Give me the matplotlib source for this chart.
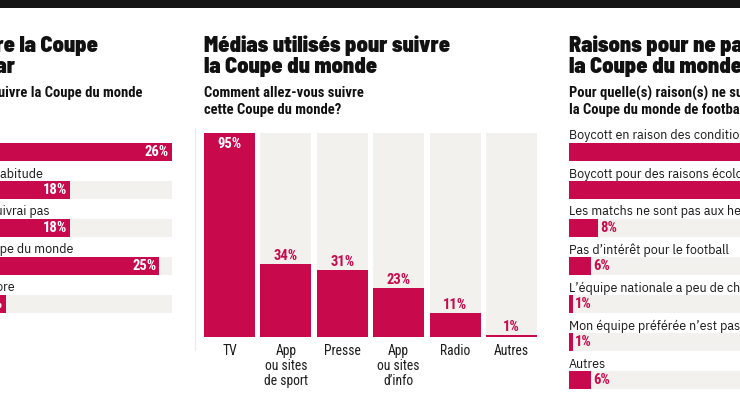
import matplotlib
matplotlib.use("Agg")
import matplotlib.pyplot as plt
from matplotlib.patches import Rectangle
from matplotlib.lines import Line2D

# ---------------- data ----------------
left_title = ["Intérêt pour suivre la Coupe", "du monde au Qatar"]
left_subtitle = "Avez-vous l'intention de suivre la Coupe du monde"
left_labels = ["Je la suivrai avec passion", "Je la suivrai par habitude",
               "Je ne la suivrai pas", "Je suivrai seulement la fin de la Coupe du monde",
               "Je ne sais pas encore"]
left_values = [26, 18, 18, 25, 13]

mid_title = ["Médias utilisés pour suivre", "la Coupe du monde"]
mid_subtitle = ["Comment allez-vous suivre", "cette Coupe du monde?"]
mid_labels = ["TV", "App\nou sites\nde sport", "Presse", "App\nou sites\nd’info", "Radio", "Autres"]
mid_values = [95, 34, 31, 23, 11, 1]

right_title = ["Raisons pour ne pas suivre", "la Coupe du monde"]
right_subtitle = ["Pour quelle(s) raison(s) ne suivrez-vous pas", "la Coupe du monde de football?"]
right_labels = ["Boycott en raison des conditions de travail des ouvriers",
                "Boycott pour des raisons écologiques",
                "Les matchs ne sont pas aux heures qui me conviennent",
                "Pas d’intérêt pour le football",
                "L’équipe nationale a peu de chances de gagner",
                "Mon équipe préférée n’est pas qualifiée",
                "Autres"]
right_values = [91, 58, 8, 6, 1, 1, 6]

# ---------------- style ----------------
W, H = 740, 416
RED = "#C8094C"
TRACK = "#F2F1EE"
INK = "#1b1b1b"
FT = "Roboto Condensed"
FTITLE = "Barlow Semi Condensed"
FBODY = "IBM Plex Sans"
TSIZE = 16
BSIZE = 9.0

fig = plt.figure(figsize=(W / 100, H / 100), dpi=100)
fig.patch.set_facecolor("white")


def fx(px):
    return px / W


def fy(py):
    return 1 - py / H


def rect(x0, x1, y0, y1):
    return [fx(x0), fy(y1), fx(x1) - fx(x0), (y1 - y0) / H]


# top black band
fig.add_artist(Rectangle((0, fy(8)), 1, 8 / H, transform=fig.transFigure,
                         facecolor="#151515", edgecolor="none"))
# faint separator
fig.add_artist(Line2D([fx(195), fx(195)], [fy(128), fy(350)], transform=fig.transFigure,
                      color="#e6ecf3", lw=0.8))


def title_block(x, title, subtitle, ha="left"):
    for k, line in enumerate(title):
        fig.text(fx(x), fy(46 + 21 * k), line, ha=ha, va="center", family=FTITLE,
                 weight="black", fontsize=TSIZE, color="#111111")
    for k, line in enumerate(subtitle):
        fig.text(fx(x), fy(93 + 17 * k), line, ha=ha, va="center", family=FT,
                 weight="bold", fontsize=10.5, color="#111111")


# ---------------- left panel (cropped) ----------------
fig.text(fx(98), fy(46), left_title[0], ha="right", va="center", family=FTITLE,
         weight="black", fontsize=TSIZE, color="#111111")
fig.text(fx(15), fy(67), left_title[1], ha="right", va="center", family=FTITLE,
         weight="black", fontsize=TSIZE, color="#111111")
fig.text(fx(142), fy(93), left_subtitle, ha="right", va="center", family=FT,
         weight="bold", fontsize=10.5, color="#111111")

axL = fig.add_axes(rect(-160, 172, 133, 323))
nL = len(left_values)
axL.barh(range(nL), [max(left_values)] * nL, height=0.45, color=TRACK)
axL.barh(range(nL), left_values, height=0.45, color=RED)
axL.set_xlim(0, max(left_values))
axL.set_ylim(nL - 0.5, -0.5)
axL.axis("off")
left_label_ends = [-30, 43, 50, 73, 15]
for i, (lab, v) in enumerate(zip(left_labels, left_values)):
    fig.text(fx(left_label_ends[i]), fy(136 + 38 * i), lab, ha="right", va="center",
             family=FBODY, fontsize=BSIZE, color=INK)
    axL.annotate(f"{v}%", (v, i), xytext=(-3, 0), textcoords="offset pixels",
                 ha="right", va="center", family=FT, weight="bold", fontsize=10.5,
                 color="white")

# ---------------- middle panel ----------------
title_block(204, mid_title, mid_subtitle)
axM = fig.add_axes(rect(204, 537, 133, 337))
nM = len(mid_values)
axM.bar(range(nM), [max(mid_values)] * nM, width=0.904, color=TRACK)
axM.bar(range(nM), mid_values, width=0.904, color=RED)
axM.set_xlim(-0.452, nM - 1 + 0.452)
axM.set_ylim(0, max(mid_values))
axM.axis("off")
for i, (lab, v) in enumerate(zip(mid_labels, mid_values)):
    if v >= 0.8 * max(mid_values):
        axM.annotate(f"{v}%", (i, v), xytext=(0, -4), textcoords="offset pixels",
                     ha="center", va="top", family=FT, weight="bold", fontsize=10.5,
                     color="white")
    else:
        axM.annotate(f"{v}%", (i, v), xytext=(0, 1), textcoords="offset pixels",
                     ha="center", va="bottom", family=FT, weight="bold", fontsize=10.5,
                     color=RED)
    axM.annotate(lab, (i, 0), xytext=(0, -7), textcoords="offset pixels",
                 ha="center", va="top", family=FT, fontsize=9.8, color=INK,
                 linespacing=1.1)

# ---------------- right panel (cropped) ----------------
title_block(569, right_title, right_subtitle)
axR = fig.add_axes(rect(569, 902, 133, 399))
nR = len(right_values)
axR.barh(range(nR), [max(right_values)] * nR, height=0.45, color=TRACK)
axR.barh(range(nR), right_values, height=0.45, color=RED)
axR.set_xlim(0, max(right_values))
axR.set_ylim(nR - 0.5, -0.5)
axR.axis("off")
for i, (lab, v) in enumerate(zip(right_labels, right_values)):
    fig.text(fx(569), fy(136 + 38 * i), lab, ha="left", va="center",
             family=FBODY, fontsize=BSIZE, color=INK)
    if v >= 0.5 * max(right_values):
        axR.annotate(f"{v}%", (v, i), xytext=(-3, 0), textcoords="offset pixels",
                     ha="right", va="center", family=FT, weight="bold", fontsize=10.5,
                     color="white")
    else:
        axR.annotate(f"{v}%", (v, i), xytext=(2, 0), textcoords="offset pixels",
                     ha="left", va="center", family=FT, weight="bold", fontsize=10.5,
                     color=RED)

fig.savefig("out.png", dpi=100)
